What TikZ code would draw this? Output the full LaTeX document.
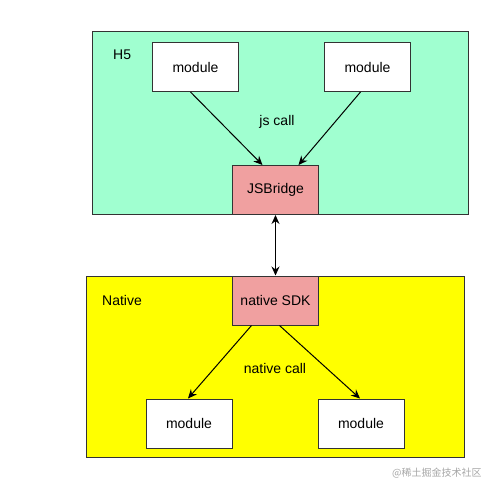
\documentclass[tikz,border=0pt]{standalone}
\usepackage{fontspec}
\setmainfont{Liberation Sans}
\newfontfamily\cjk{Noto Sans CJK SC}
\usetikzlibrary{arrows.meta,calc}
\definecolor{hgreen}{RGB}{160,255,208}
\definecolor{nyellow}{RGB}{255,255,0}
\definecolor{bpink}{RGB}{240,160,160}
\begin{document}
\begin{tikzpicture}[x=1pt,y=-1pt,
  region/.style={draw=black!80, line width=1pt},
  modbox/.style={draw=black!80, fill=white, line width=1pt, minimum width=86pt, minimum height=49pt, inner sep=0pt, font=\fontsize{14}{16}\selectfont},
  bridge/.style={draw=black!80, fill=bpink, line width=1pt, minimum width=86pt, minimum height=49pt, inner sep=0pt, font=\fontsize{14}{16}\selectfont},
  lbl/.style={font=\fontsize{14}{16}\selectfont, inner sep=0pt},
  conn/.style={draw=black, line width=1pt, -{Stealth[length=9pt,width=8pt]}}
]
\useasboundingbox (0,0) rectangle (499,493);
% regions
\fill[hgreen] (92,31) rectangle (468,214);
\draw[region] (92,31) rectangle (468,214);
\fill[nyellow] (86,276) rectangle (464,457);
\draw[region] (86,276) rectangle (464,457);
\node[lbl, anchor=west] (h5) at (113,55) {H5};
\node[lbl, anchor=west] (nat) at (102,300) {Native};
% nodes
\node[modbox] (m1) at (195.5,67) {module};
\node[modbox] (m2) at (367.5,67) {module};
\node[bridge] (jsb) at (275.5,190) {JSBridge};
\node[bridge] (sdk) at (275.5,300.5) {native SDK};
\node[modbox] (m3) at (189,423.5) {module};
\node[modbox] (m4) at (361,423.5) {module};
\node[lbl] (jscall) at (277,122) {js call};
\node[lbl] (ncall) at (275,368) {native call};
% connectors
\draw[conn] ($(m1.south)+(-5,0)$) -- ($(jsb.north)+(-13,0)$);
\draw[conn] ($(m2.south)+(-7,0)$) -- ($(jsb.north)+(23,0)$);
\draw[conn, {Stealth[length=9pt,width=8pt]}-{Stealth[length=9pt,width=8pt]}] (jsb) -- (sdk);
\draw[conn] ($(sdk.south)+(-24,0)$) -- ($(m3.north)+(-1,0)$);
\draw[conn] ($(sdk.south)+(4,0)$) -- ($(m4.north)+(-1,0)$);
% watermark
\node[anchor=west, text=black!35, font=\cjk\fontsize{10}{12}\selectfont, inner sep=0pt] (wm) at (392,473) {@稀土掘金技术社区};
\end{tikzpicture}
\end{document}
